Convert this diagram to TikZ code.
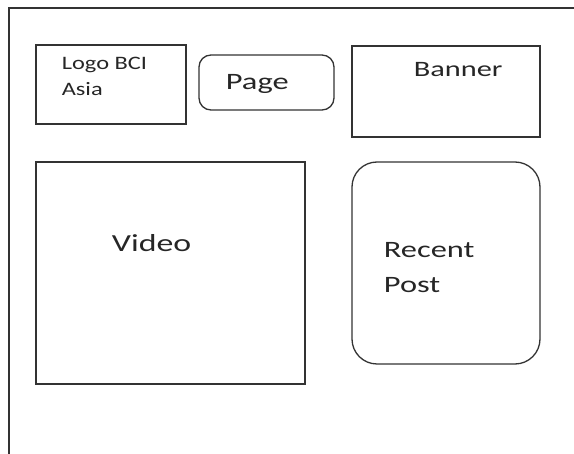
\documentclass[tikz,border=0pt]{standalone}
\usepackage{fontspec}
\setmainfont{Carlito}
\begin{document}
\begin{tikzpicture}[x=1pt,y=-1pt,
  line width=1.3pt,
  ink/.style={draw=black!80},
  panel/.style={ink, rectangle, minimum width=#1, inner sep=0pt},
  lbl/.style={anchor=base west, inner sep=0pt, text=black!85, xscale=1.38},
  big/.style={lbl, font=\fontsize{23.5}{26}\selectfont},
  small/.style={lbl, xscale=0.93, font=\fontsize{19}{22}\selectfont}]
  \useasboundingbox (0,0) rectangle (574,454);

  % page frame: only its left and top edges are in view
  \coordinate (frameTR) at (574,8);
  \coordinate (frameTL) at (9,8);
  \coordinate (frameBL) at (9,454);
  \draw[ink] (frameTR) -- (frameTL) -- (frameBL);

  % header blocks
  \node[panel=150pt, minimum height=79pt] (logo) at (111,84.5) {};
  \node[panel=135pt, minimum height=55pt, rounded corners=12pt] (page) at (266.5,82.5) {};
  \node[panel=188pt, minimum height=91pt] (banner) at (446,91.5) {};

  % content blocks
  \node[panel=269pt, minimum height=222pt] (video) at (170.5,273) {};
  \node[panel=188pt, minimum height=202pt, rounded corners=25pt] (recent) at (446,263) {};

  % labels
  \node[small] (logoA) at (61,70) {Logo BCI};
  \node[small] (logoB) at (61,96) {Asia};
  \node[big] (pageT) at (225,90) {Page};
  \node[big, font=\fontsize{22}{26}\selectfont] (bannerT) at (413,77) {Banner};
  \node[big, font=\fontsize{24.5}{26}\selectfont] (videoT) at (111,252) {Video};
  \node[big] (recentA) at (383,258) {Recent};
  \node[big] (recentB) at (383,293) {Post};
\end{tikzpicture}
\end{document}
